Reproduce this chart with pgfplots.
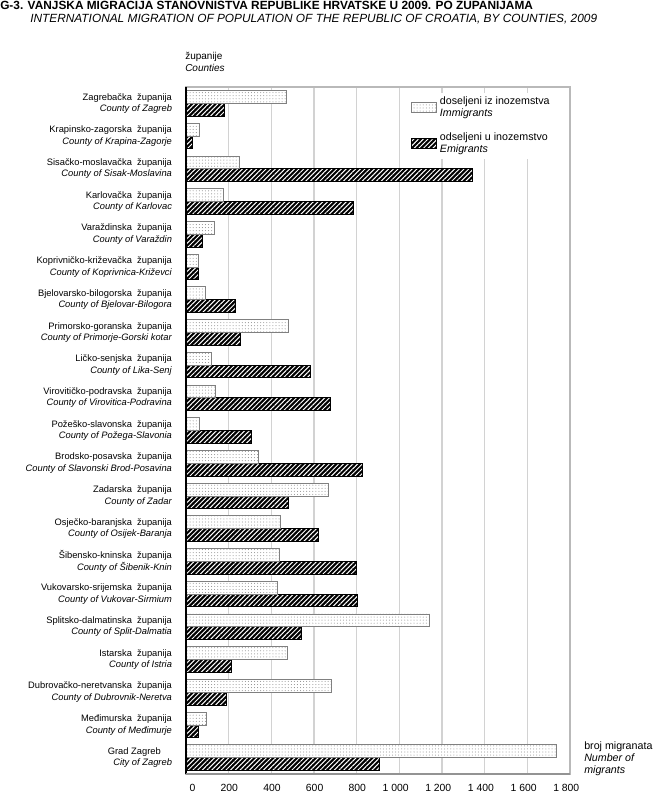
\documentclass[border=0pt]{standalone}
\usepackage{fontspec}
\setmainfont{Liberation Sans}
\usepackage{pgfplots}
\pgfplotsset{compat=1.18}
\usetikzlibrary{patterns.meta}
\newcommand\zs{\hspace{0.56em}}
\definecolor{gridc}{HTML}{D2D2D2}
\begin{document}
\begin{tikzpicture}
\begin{axis}[
  at={(0pt,0pt)}, anchor=south west,
  scale only axis, width=288pt, height=515.25pt,
  xbar=0pt, bar width=9.6pt,
  y dir=reverse,
  xmin=0, xmax=1800, ymin=-0.5, ymax=20.5,
  xtick={0,200,...,1800},
  xticklabels={0,200,400,600,800,1 000,1 200,1 400,1 600,1 800},
  ytick={0,...,20},
  yticklabels={
    {Zagrebačka\zs županija\\\textit{County of Zagreb}},
    {Krapinsko-zagorska\zs županija\\\textit{County of Krapina-Zagorje}},
    {Sisačko-moslavačka\zs županija\\\textit{County of Sisak-Moslavina}},
    {Karlovačka\zs županija\\\textit{County of Karlovac}},
    {Varaždinska\zs županija\\\textit{County of Varaždin}},
    {Koprivničko-križevačka\zs županija\\\textit{County of Koprivnica-Križevci}},
    {Bjelovarsko-bilogorska\zs županija\\\textit{County of Bjelovar-Bilogora}},
    {Primorsko-goranska\zs županija\\\textit{County of Primorje-Gorski kotar}},
    {Ličko-senjska\zs županija\\\textit{County of Lika-Senj}},
    {Virovitičko-podravska\zs županija\\\textit{County of Virovitica-Podravina}},
    {Požeško-slavonska\zs županija\\\textit{County of Požega-Slavonia}},
    {Brodsko-posavska\zs županija\\\textit{County of Slavonski Brod-Posavina}},
    {Zadarska\zs županija\\\textit{County of Zadar}},
    {Osječko-baranjska\zs županija\\\textit{County of Osijek-Baranja}},
    {Šibensko-kninska\zs županija\\\textit{County of Šibenik-Knin}},
    {Vukovarsko-srijemska\zs županija\\\textit{County of Vukovar-Sirmium}},
    {Splitsko-dalmatinska\zs županija\\\textit{County of Split-Dalmatia}},
    {Istarska\zs županija\\\textit{County of Istria}},
    {Dubrovačko-neretvanska\zs županija\\\textit{County of Dubrovnik-Neretva}},
    {Međimurska\zs županija\\\textit{County of Međimurje}},
    {Grad Zagreb\hspace{1.2em}\mbox{}\\\textit{City of Zagreb}}
  },
  major tick length=0pt,
  xmajorgrids, major grid style={gridc, line width=0.8pt},
  axis line style={gray!55, line width=0.8pt},
  /pgf/number format/assume math mode=true,
  x tick label style={font=\fontsize{7.8}{9}\selectfont, anchor=north east, xshift=10.5pt, yshift=-4pt},
  y tick label style={font=\fontsize{7}{8.6}\selectfont, align=right, xshift=-7pt},
  reverse legend,
  legend style={at={(0.583,1)}, anchor=north west, yshift=-4pt, draw=none, fill=white,
    font=\fontsize{8}{9}\selectfont, cells={align=left, anchor=west}, row sep=7pt, inner sep=1pt},
  legend image code/.code={\draw[#1] (0pt,-3.75pt) rectangle (18.75pt,3.75pt);},
]
\addplot[draw=black, line width=0.6pt, fill=black,
  postaction={pattern={Lines[angle=45, distance=2.5pt, line width=0.75pt]}, pattern color=white}]
  coordinates {
  (181,0) (30,1) (1344,2) (786,3) (78,4) (59,5) (230,6) (256,7) (583,8) (675,9)
  (305,10) (828,11) (478,12) (619,13) (800,14) (805,15) (542,16) (214,17) (188,18) (58,19) (906,20)};
\addplot[draw=gray, line width=0.6pt, fill=white,
  postaction={pattern={Dots[distance=2.3pt, radius=0.38pt]}, pattern color=gray!90}]
  coordinates {
  (472,0) (61,1) (250,2) (175,3) (134,4) (56,5) (92,6) (480,7) (119,8) (138,9)
  (63,10) (338,11) (669,12) (442,13) (439,14) (430,15) (1142,16) (475,17) (683,18) (94,19) (1737,20)};
\legend{{odseljeni u inozemstvo\\\textit{Emigrants}},{doseljeni iz inozemstva\\\textit{Immigrants}}}
\end{axis}
\draw[black, line width=1.1pt] (0pt,0pt) -- (0pt,515.25pt);
\draw[gray!85, line width=0.9pt] (0pt,0pt) -- (288pt,0pt);
\node[anchor=base west, inner sep=0pt, font=\bfseries\fontsize{8.9}{10}\selectfont] at (-139.5pt,573pt)
  {G-3. VANJSKA MIGRACIJA STANOVNIŠTVA REPUBLIKE HRVATSKE U 2009. PO ŽUPANIJAMA};
\node[anchor=base west, inner sep=0pt, font=\itshape\fontsize{8.9}{10}\selectfont] at (-117pt,563.5pt)
  {INTERNATIONAL MIGRATION OF POPULATION OF THE REPUBLIC OF CROATIA, BY COUNTIES, 2009};
\node[anchor=base west, inner sep=0pt, font=\fontsize{7.5}{9}\selectfont] at (-0.75pt,535.5pt) {županije};
\node[anchor=base west, inner sep=0pt, font=\itshape\fontsize{7.5}{9}\selectfont] at (-0.75pt,526.5pt) {Counties};
\node[anchor=base west, inner sep=0pt, font=\fontsize{8}{9}\selectfont] at (298.5pt,18pt) {broj migranata};
\node[anchor=base west, inner sep=0pt, font=\itshape\fontsize{8}{9}\selectfont] at (298.5pt,9pt) {Number of};
\node[anchor=base west, inner sep=0pt, font=\itshape\fontsize{8}{9}\selectfont] at (298.5pt,0.5pt) {migrants};
\pgfresetboundingbox
\useasboundingbox (-139.5pt,-18pt) rectangle (349.5pt,580.5pt);
\end{tikzpicture}
\end{document}
